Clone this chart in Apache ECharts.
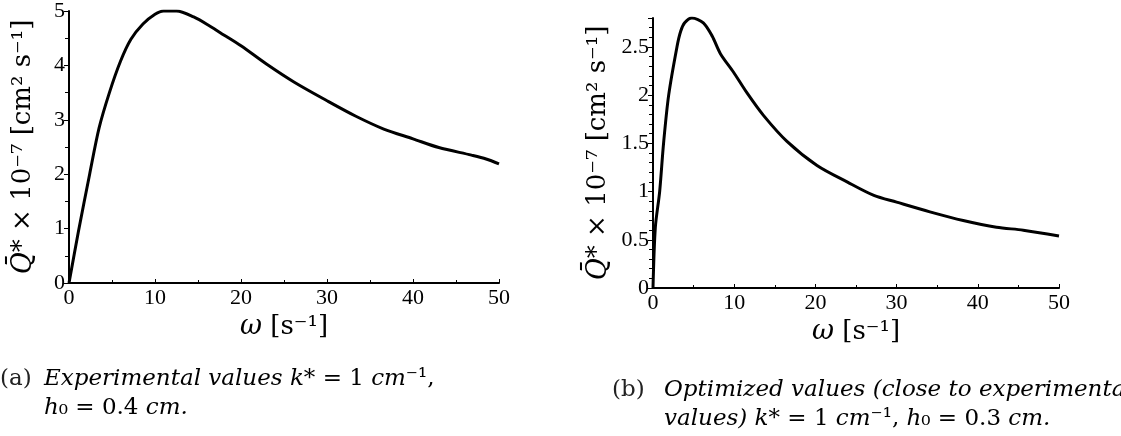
<!DOCTYPE html>
<html><head><meta charset="utf-8">
<script src="https://cdn.jsdelivr.net/npm/echarts@6/dist/echarts.min.js"></script>
<style>html,body{margin:0;padding:0;background:#fff}#c{width:1121px;height:436px}</style>
</head><body><div id="c"></div>
<script>
// Panel (a): experimental values
const omegaA = [0,1.1,2.4,3.5,4.7,6,7.2,8.6,10,11,12.5,14.5,16.4,18,20,23,26.2,30,33.3,36.6,40,43,46.8,48.5,50];
const qA     = [0,0.95,2,2.85,3.5,4.08,4.48,4.76,4.94,5,5,4.89,4.72,4.56,4.36,4.02,3.69,3.35,3.07,2.83,2.65,2.49,2.35,2.28,2.19];
// Panel (b): optimized values
const omegaB = [0,0.29,0.82,1.3,1.93,2.95,3.4,3.9,4.8,6.2,7.3,8.3,9.9,11.6,13.6,16.5,20.2,23.9,27.2,30,34.1,38.2,42.3,45.6,50];
const qB     = [0,0.63,1,1.5,2,2.5,2.66,2.75,2.8,2.75,2.61,2.43,2.24,2.02,1.79,1.52,1.27,1.1,0.96,0.89,0.79,0.7,0.63,0.6,0.54];
const xTicks = [0,10,20,30,40,50];
const yTicksA = [0,1,2,3,4,5];
const yTicksB = [0,0.5,1,1.5,2,2.5];

const SERIF = '"Liberation Serif","DejaVu Serif",serif';
const WSERIF = '"DejaVu Serif","Liberation Serif",serif';
const yName = '{q|Q̄}{n|* × 10⁻⁷ [cm² s⁻¹]}';
const xName = '{q|ω}{n| [s⁻¹]}';
const nameRich = {
  q:{fontFamily:WSERIF,fontStyle:'italic',fontSize:27,color:'#000'},
  n:{fontFamily:WSERIF,fontSize:26,color:'#000'}
};
function xAxis(gi){
  return {type:'value',gridIndex:gi,min:0,max:50,interval:10,
    name:xName,nameLocation:'middle',nameGap:28,nameTextStyle:{rich:nameRich},
    axisLine:{lineStyle:{color:'#000',width:2}},
    axisTick:{inside:true,length:4,lineStyle:{color:'#000',width:1}},
    minorTick:{show:true,splitNumber:2,length:3,lineStyle:{color:'#000'}},
    axisLabel:{color:'#000',fontFamily:SERIF,fontSize:22,margin:4,
      customValues:xTicks},
    splitLine:{show:false}};
}
function yAxis(gi,max,interval,minorSplit,ticks,gap){
  return {type:'value',gridIndex:gi,min:0,max:max,interval:interval,
    name:yName,nameLocation:'middle',nameGap:gap,nameRotate:90,nameTextStyle:{rich:nameRich},
    axisLine:{show:true,lineStyle:{color:'#000',width:2}},
    axisTick:{length:5,lineStyle:{color:'#000',width:1}},
    minorTick:{show:true,splitNumber:minorSplit,length:4,lineStyle:{color:'#000'}},
    axisLabel:{color:'#000',fontFamily:SERIF,fontSize:22,margin:4,showMaxLabel:max===ticks[ticks.length-1],
      formatter:v=>ticks.indexOf(v)>=0?String(v):''},
    splitLine:{show:false}};
}
const chart = echarts.init(document.getElementById('c'),null,{renderer:'canvas'});
const capRich = {
  r:{fontFamily:WSERIF,fontSize:23,color:'#222'},
  i:{fontFamily:WSERIF,fontStyle:'italic',fontSize:23,color:'#222'}
};
chart.setOption({
  animation:false,
  backgroundColor:'#fff',
  grid:[{left:69,right:622,top:10,bottom:153},{left:653,right:62,top:18,bottom:148}],
  xAxis:[xAxis(0),xAxis(1)],
  yAxis:[yAxis(0,5,1,2,yTicksA,32),yAxis(1,2.8,0.5,5,yTicksB,41)],
  series:[
    {type:'line',xAxisIndex:0,yAxisIndex:0,data:omegaA.map((x,i)=>[x,qA[i]]),showSymbol:false,smooth:0.3,
      lineStyle:{color:'#000',width:3}},
    {type:'line',xAxisIndex:1,yAxisIndex:1,data:omegaB.map((x,i)=>[x,qB[i]]),showSymbol:false,smooth:0.3,
      lineStyle:{color:'#000',width:3}}
  ],
  graphic:[
    {type:'text',left:0,top:368,style:{text:'(a)',font:'23px '+WSERIF,fill:'#222'}},
    {type:'text',left:44,top:368,style:{text:'{i|Experimental values k}{r|* = 1 }{i|cm}{r|⁻¹,}',rich:capRich}},
    {type:'text',left:44,top:397,style:{text:'{i|h}{r|₀ = 0.4 }{i|cm.}',rich:capRich}},
    {type:'text',left:612,top:379,style:{text:'(b)',font:'23px '+WSERIF,fill:'#222'}},
    {type:'text',left:664,top:379,style:{text:'{i|Optimized values (close to experimental}',rich:capRich}},
    {type:'text',left:664,top:408,style:{text:'{i|values) k}{r|* = 1 }{i|cm}{r|⁻¹, }{i|h}{r|₀ = 0.3 }{i|cm.}',rich:capRich}}
  ]
});
</script></body></html>
